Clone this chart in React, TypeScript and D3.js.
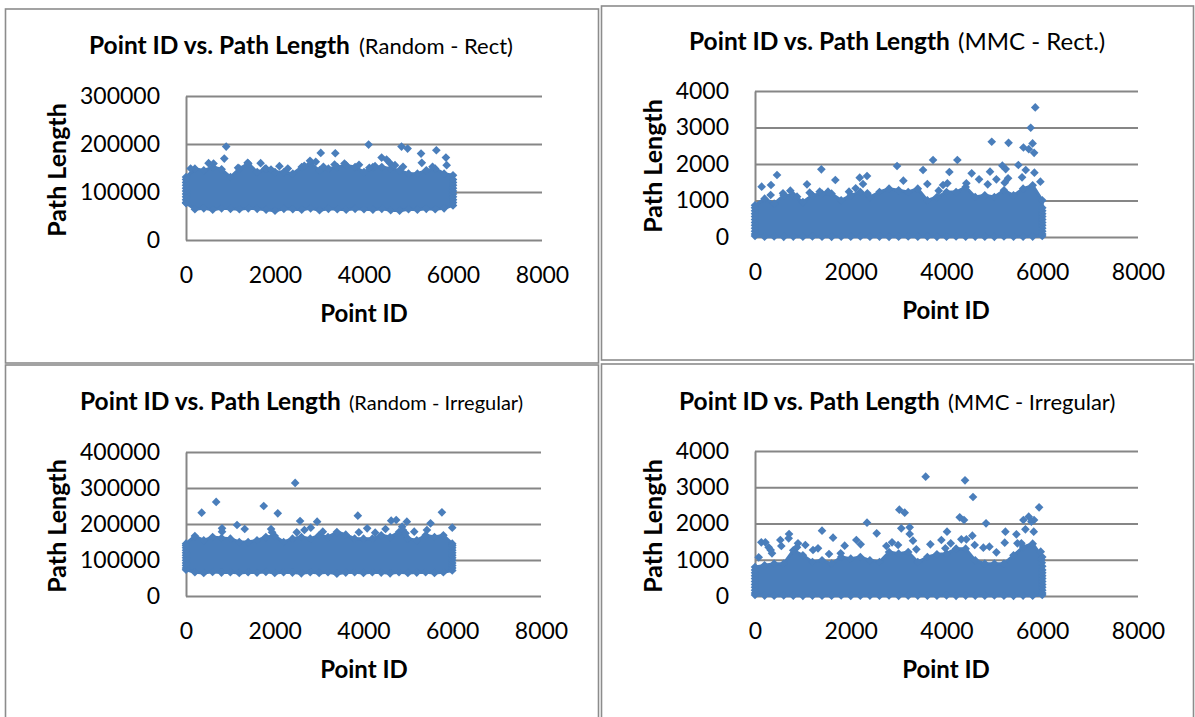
import React, { useEffect, useRef } from 'react';
import * as d3 from 'd3';

// x axis and tick labels shared by all four charts
const xTicks = [0, 2000, 4000, 6000, 8000];
const yTicksRandomRect = [0, 100000, 200000, 300000];
const yTicksRandomIrregular = [0, 100000, 200000, 300000, 400000];
const yTicksMmc = [0, 1000, 2000, 3000, 4000];

// the dense part of each cloud is read as its top and bottom edge, one reading per 200 ids
const bandIds = [0, 200, 400, 600, 800, 1000, 1200, 1400, 1600, 1800, 2000, 2200, 2400, 2600, 2800, 3000,
  3200, 3400, 3600, 3800, 4000, 4200, 4400, 4600, 4800, 5000, 5200, 5400, 5600, 5800, 6000];
// ids at the two ends of the cloud, where it stops
const bandEnds = [0, 6000];

const randomRectHigh = [131000, 148600, 145100, 152000, 147300, 131200, 148600, 159000, 141600, 148600, 141600,
  141600, 138200, 152000, 159000, 145100, 148600, 152000, 155500, 152000, 141600, 152000, 152000, 148600, 145100,
  138200, 138200, 145100, 148600, 138200, 134700];
const randomRectLow = [77000, 64000, 66000, 63000, 66000, 65000, 64000, 66000, 65000, 63000, 61000, 65000, 64000,
  63000, 66000, 62000, 65000, 64000, 63000, 65000, 64000, 63000, 65000, 62000, 61000, 64000, 63000, 65000, 64000,
  66000, 72000];
const randomRectSides = [78000, 84000, 90000, 96000, 102000, 108000, 114000, 120000, 126000];
const randomRectOutliers: [number, number][] = [
  [903, 194700], [860, 169700], [4103, 198800], [4843, 194700], [4980, 190500], [5282, 180100], [5626, 187000],
  [5841, 171800], [5858, 155900], [3028, 181500], [3355, 180800], [2787, 164900], [2916, 162800], [3338, 157300],
  [3088, 152400], [3561, 159300], [3888, 156600], [4396, 171800], [4507, 167700], [4576, 160700], [4697, 155900],
  [4877, 152400], [5299, 160700], [1677, 160000], [1385, 160700], [507, 160000], [619, 159300], [2099, 153800],
  [2288, 149000], [1780, 149000], [1910, 146900], [1170, 150300], [103, 149000], [2658, 154500], [4249, 153800],
  [4120, 150300], [5540, 152400],
];

const mmcRectHigh = [868, 1050, 913, 1142, 1142, 958, 1142, 1187, 1187, 1004, 1142, 1233, 1096, 1233, 1324, 1279,
  1233, 1324, 1004, 1096, 1233, 1233, 1370, 1096, 1142, 1096, 1279, 1142, 1324, 1416, 1004];
const mmcRectLow = [30, 10, 15, 5, 12, 8, 15, 10, 5, 12, 8, 15, 10, 12, 5, 10, 15, 8, 12, 5, 10, 15, 8, 12, 10, 5,
  15, 10, 8, 12, 30];
const mmcRectSides = [80, 160, 240, 320, 400, 480, 560, 640, 720, 800];
const mmcRectOutliers: [number, number][] = [
  [139, 1379], [334, 1424], [460, 1698], [327, 1150], [585, 1196], [738, 1269], [878, 1105], [1086, 1443],
  [1386, 1853], [1142, 1214], [1678, 1561], [1351, 1242], [1525, 1242], [1964, 1242], [2103, 1333], [2187, 1625],
  [2340, 1671], [2256, 1452], [2347, 1196], [2967, 1945], [3099, 1543], [3510, 1835], [3600, 1452], [3719, 2109],
  [4227, 2109], [4060, 1780], [3837, 1269], [3928, 1424], [4018, 1470], [4415, 1470], [4526, 1744], [4680, 1580],
  [4909, 1789], [4861, 1443], [5042, 1580], [5167, 1954], [5237, 1862], [5501, 1972], [5655, 1835], [5836, 1762],
  [5578, 1634], [5961, 1516], [5286, 1607], [5216, 1488], [5854, 3551], [5759, 2993], [4945, 2609], [5296, 2581],
  [5798, 2563], [5607, 2453], [5719, 2407], [5830, 2307],
];

const randomIrregularHigh = [145300, 166700, 154700, 163900, 161100, 159200, 150000, 150000, 154700, 163900,
  166700, 150000, 159200, 163900, 159200, 168500, 163900, 177800, 170300, 159200, 159200, 159200, 168500, 163900,
  177800, 159200, 154700, 168500, 163900, 168500, 145300];
const randomIrregularLow = [73000, 66000, 64000, 67000, 65000, 66000, 64000, 66000, 65000, 67000, 64000, 66000,
  65000, 63000, 66000, 64000, 66000, 62000, 65000, 66000, 64000, 66000, 65000, 63000, 66000, 64000, 65000, 66000,
  64000, 66000, 71000];
const randomIrregularSides = [78000, 85000, 92000, 99000, 106000, 113000, 120000, 127000, 134000, 140000];
const randomIrregularOutliers: [number, number][] = [
  [353, 231500], [812, 188000], [812, 178700], [1150, 197200], [1323, 186100], [1752, 250000], [2068, 229600],
  [1917, 186100], [1940, 176900], [2496, 176900], [2571, 208300], [2669, 183400], [2812, 189800], [2955, 206400],
  [3083, 178600], [3872, 223100], [4083, 188000], [4263, 175900], [3895, 177000], [4496, 186100], [4624, 209300],
  [4737, 211100], [4977, 206400], [4872, 192600], [5143, 178600], [5511, 201900], [5429, 183400], [5767, 232400],
  [6000, 189800], [4887, 183400], [4947, 174100], [2460, 314100], [680, 261400],
];

const mmcIrregularHigh = [800, 846, 892, 892, 1260, 1122, 938, 984, 892, 1076, 1030, 1076, 984, 938, 1214, 1168,
  1214, 938, 1076, 1149, 1168, 1306, 1306, 984, 892, 892, 892, 1122, 1352, 1444, 1076];
const mmcIrregularLow = [30, 12, 8, 15, 10, 5, 12, 10, 8, 15, 5, 10, 12, 8, 15, 5, 10, 12, 8, 10, 15, 5, 12, 10, 8,
  15, 10, 5, 12, 8, 30];
const mmcIrregularSides = [80, 160, 240, 320, 400, 480, 560, 640, 720];
const mmcIrregularOutliers: [number, number][] = [
  [77, 1067], [132, 1480], [216, 1480], [285, 1342], [355, 1177], [327, 1269], [529, 1545], [550, 1379], [711, 1710],
  [703, 1591], [898, 1453], [1052, 1407], [877, 1342], [1212, 1269], [1316, 1315], [1400, 1802], [1630, 1609],
  [1546, 1159], [1873, 1388], [1790, 1177], [2117, 1545], [2207, 1425], [2340, 2023], [2542, 1729], [2744, 1379],
  [2862, 1480], [2988, 1407], [3056, 1867], [3231, 1894], [3231, 1710], [3300, 1526], [3370, 1287], [3663, 1425],
  [3893, 1545], [4011, 1775], [4088, 1453], [3976, 1315], [4310, 1563], [4415, 1563], [4540, 1664], [4589, 1407],
  [4770, 1333], [4896, 1361], [5042, 1205], [4826, 2004], [4276, 2170], [4366, 2096], [5230, 1775], [5216, 1471],
  [5460, 1701], [5481, 1453], [5648, 1839], [5606, 2096], [5717, 2188], [5829, 2096], [5773, 2051], [5822, 1775],
  [5564, 1453], [5968, 1223], [3565, 3292], [4387, 3191], [4554, 2731], [3015, 2381], [3127, 2299], [5934, 2446],
  [6000, 820], [5990, 920], [5980, 1000],
];

const FONT = 'Lato, "Open Sans", sans-serif';
const BLUE = '#4a7ebb';
const GREY = '#868686';

const panels = [
  {
    subtitle: '(Random - Rect)', subSize: 22, frame: [5.5, 9, 593, 354], left: 186, right: 542, top: 96, bottom: 240,
    titleX: 89, subX: 359, titleY: 54, xLabelX: 364, xLabelY: 322, yLabelX: 66, yLabelY: 170,
    yTicks: yTicksRandomRect, high: randomRectHigh, low: randomRectLow, sides: randomRectSides, outliers: randomRectOutliers,
  },
  {
    subtitle: '(MMC - Rect.)', subSize: 24, frame: [601.5, 6, 592, 354], left: 755, right: 1138, top: 91, bottom: 237,
    titleX: 689, subX: 958, titleY: 50, xLabelX: 946, xLabelY: 319, yLabelX: 662, yLabelY: 166,
    yTicks: yTicksMmc, high: mmcRectHigh, low: mmcRectLow, sides: mmcRectSides, outliers: mmcRectOutliers,
  },
  {
    subtitle: '(Random - Irregular)', subSize: 20, frame: [5.5, 365, 593, 380], left: 186, right: 541, top: 452, bottom: 596,
    titleX: 80, subX: 349, titleY: 410, xLabelX: 364, xLabelY: 678, yLabelX: 66, yLabelY: 526,
    yTicks: yTicksRandomIrregular, high: randomIrregularHigh, low: randomIrregularLow, sides: randomIrregularSides, outliers: randomIrregularOutliers,
  },
  {
    subtitle: '(MMC - Irregular)', subSize: 22, frame: [601.5, 364, 592, 380], left: 755, right: 1138, top: 451, bottom: 596,
    titleX: 679, subX: 948, titleY: 410, xLabelX: 946, xLabelY: 678, yLabelX: 662, yLabelY: 526,
    yTicks: yTicksMmc, high: mmcIrregularHigh, low: mmcIrregularLow, sides: mmcIrregularSides, outliers: mmcIrregularOutliers,
  },
];

function Panel({ p }) {
  const xRef = useRef(null);
  const yRef = useRef(null);

  const x = d3.scaleLinear().domain([0, 8000]).range([p.left, p.right]);
  const y = d3.scaleLinear().domain([0, d3.max(p.yTicks)]).range([p.bottom, p.top]);

  useEffect(() => {
    const yAxis = d3.axisLeft(y).tickValues(p.yTicks).tickFormat(d3.format('d'))
      .tickSizeInner(-(p.right - p.left)).tickSizeOuter(0).tickPadding(26);
    const xAxis = d3.axisBottom(x).tickValues(xTicks).tickFormat(d3.format('d'))
      .tickSize(0).tickPadding(27);

    const yg = d3.select(yRef.current).call(yAxis);
    yg.attr('font-family', FONT).attr('font-size', 23);
    yg.selectAll('line').attr('stroke', GREY).attr('stroke-width', 2);
    yg.select('.domain').attr('stroke', GREY).attr('stroke-width', 2);

    const xg = d3.select(xRef.current).call(xAxis);
    xg.attr('font-family', FONT).attr('font-size', 23);
    xg.select('.domain').remove();
  }, []);

  const band = d3.area()
    .x((_, i) => x(bandIds[i]))
    .y0((_, i) => y(p.low[i]))
    .y1((d) => y(d));
  const diamond = d3.symbol(d3.symbolDiamond2, 48);

  const edgePoints = [
    ...bandIds.map((id, i) => [id, p.high[i]]),
    ...bandIds.map((id, i) => [id, p.low[i]]),
    ...bandEnds.flatMap((id) => p.sides.map((v) => [id, v])),
    ...p.outliers,
  ];

  return (
    <g>
      <rect x={p.frame[0]} y={p.frame[1]} width={p.frame[2]} height={p.frame[3]} fill="#fff" stroke="#8c8c8c" strokeWidth={1.6} />
      <g ref={yRef} transform={`translate(${p.left},0)`} />
      <g ref={xRef} transform={`translate(0,${p.bottom})`} />
      <path d={band(p.high)} fill={BLUE} stroke={BLUE} strokeWidth={3} strokeLinejoin="round" />
      {edgePoints.map((d, i) => (
        <path key={i} d={diamond()} fill={BLUE} transform={`translate(${x(d[0])},${y(d[1])})`} />
      ))}
      <text fontFamily={FONT} fontSize={24.5} fontWeight={700} x={p.titleX} y={p.titleY}>Point ID vs. Path Length</text>
      <text fontFamily={FONT} fontSize={p.subSize} x={p.subX} y={p.titleY}>{p.subtitle}</text>
      <text fontFamily={FONT} fontSize={24} fontWeight={700} x={p.xLabelX} y={p.xLabelY} textAnchor="middle">Point ID</text>
      <text fontFamily={FONT} fontSize={25} fontWeight={700} textAnchor="middle"
        transform={`translate(${p.yLabelX},${p.yLabelY}) rotate(-90)`}>Path Length</text>
    </g>
  );
}

export default function App() {
  return (
    <svg width={1195} height={717} style={{ position: 'absolute', left: 0, top: 0, display: 'block' }}>
      <rect width={1195} height={717} fill="#fff" />
      {panels.map((p) => <Panel key={p.subtitle} p={p} />)}
    </svg>
  );
}
